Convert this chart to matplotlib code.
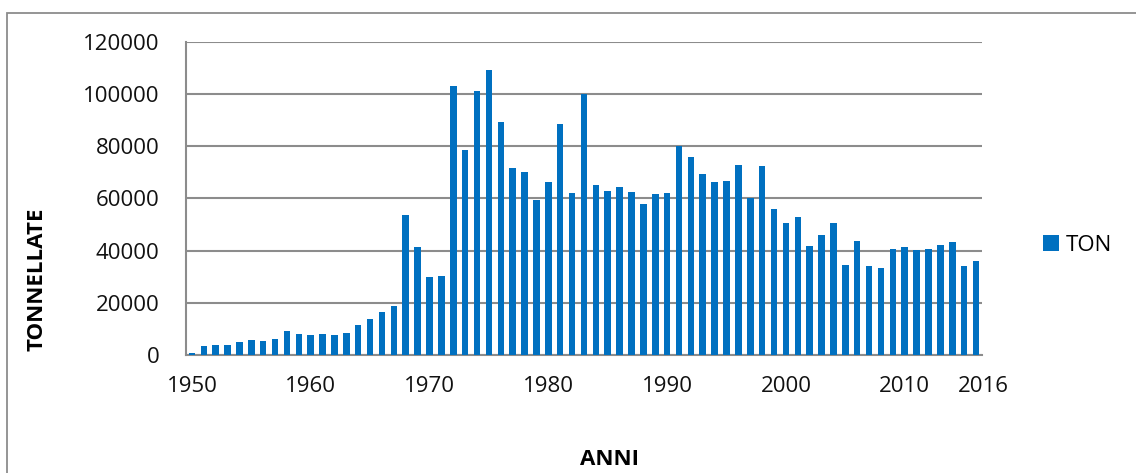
import matplotlib.pyplot as plt
from matplotlib.patches import Rectangle
from matplotlib.transforms import ScaledTranslation

# yearly catch, tonnes
anni = list(range(1950, 2017))
ton = [
    600, 3600, 3800, 3800, 4850, 5700, 5500, 6100, 9300, 8200,      # 1950-59
    7700, 8000, 7500, 8400, 11500, 13800, 16300, 18900, 53700, 41200,  # 1960-69
    30000, 30400, 102900, 78600, 101100, 109200, 89200, 71500, 70100, 59500,  # 1970-79
    66300, 88500, 61900, 99800, 65100, 62800, 64300, 62400, 57700, 61700,  # 1980-89
    62000, 80000, 75700, 69300, 66300, 66600, 72900, 60300, 72400, 55900,  # 1990-99
    50600, 53000, 41900, 46000, 50600, 34500, 43700, 34100, 33400, 40600,  # 2000-09
    41500, 40200, 40600, 42000, 43300, 34100, 35900,                     # 2010-16
]
tick_anni = [1950, 1960, 1970, 1980, 1990, 2000, 2010, 2016]
tick_y = [0, 20000, 40000, 60000, 80000, 100000, 120000]

plt.rcParams['font.family'] = ['Open Sans', 'DejaVu Sans']

blu = '#0070C0'
grigio = '#8C8C8C'

fig = plt.figure(figsize=(11.36, 4.73), dpi=100)
ax = fig.add_axes([0.1637, 0.2495, 0.8644 - 0.1637, 0.9118 - 0.2495])

# chart area border
fig.patches.append(Rectangle((6.5 / 1136, -0.05), 1.2, 1 - 12.7 / 473 + 0.05,
                             transform=fig.transFigure, fill=False,
                             edgecolor=grigio, linewidth=1.3))

ax.bar(anni, ton, width=0.55, color=blu, label='TON', zorder=3)

ax.set_xlim(1949.5, 2016.5)
ax.set_ylim(0, 120000)
ax.set_yticks(tick_y)
ax.set_xticks(tick_anni)
ax.set_xticklabels([str(a) for a in tick_anni])
ax.tick_params(axis='both', length=0, labelsize=16, colors='#111111')
ax.tick_params(axis='y', pad=19)
ax.tick_params(axis='x', pad=15)
# last label sits a little to the right
lab = ax.get_xticklabels()[-1]
lab.set_transform(lab.get_transform() + ScaledTranslation(7 / 100, 0, fig.dpi_scale_trans))

ax.grid(axis='y', color=grigio, linewidth=1.5, zorder=0)
for s in ['top', 'right']:
    ax.spines[s].set_visible(False)
for s in ['left', 'bottom']:
    ax.spines[s].set_color(grigio)
    ax.spines[s].set_linewidth(1.5)

fig.text(37 / 1136, 1 - 279 / 473, 'TONNELLATE', rotation=90, ha='center',
         va='center', fontsize=16, fontweight='bold')
fig.text(610 / 1136, 1 - 459 / 473, 'ANNI', ha='center', va='center',
         fontsize=16, fontweight='bold')

ax.legend(loc='center left', bbox_to_anchor=(1.052, 0.35), frameon=False,
          fontsize=16, handlelength=0.7, handleheight=0.7, handletextpad=0.3)

fig.savefig('out.png', dpi=100)
